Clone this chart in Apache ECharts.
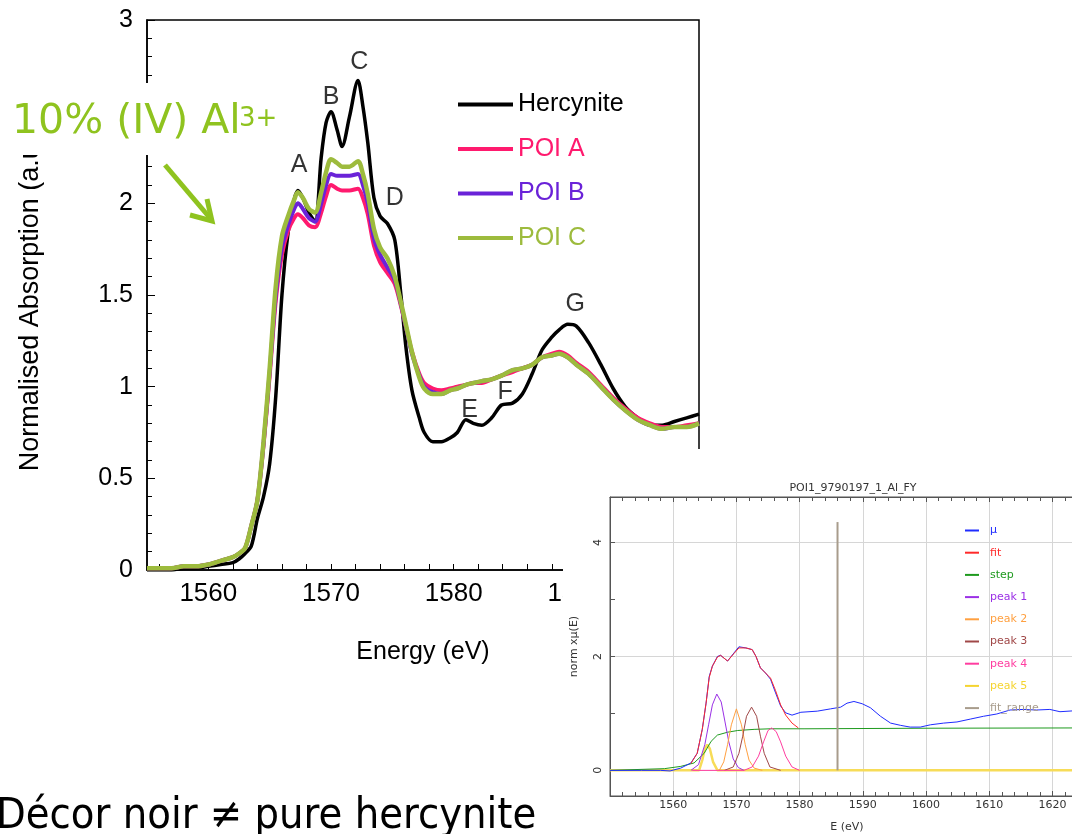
<!DOCTYPE html>
<html>
<head>
<meta charset="utf-8">
<script src="https://cdn.jsdelivr.net/npm/echarts@6/dist/echarts.min.js"></script>
<style>
  html, body { margin: 0; padding: 0; background: #fff; }
  #main { position: absolute; left: 0; top: 0; width: 1072px; height: 834px; }
  #fit  { position: absolute; left: 563px; top: 449px; width: 509px; height: 385px; background: #fff; }
</style>
</head>
<body>
<div id="main"></div>
<div id="fit"></div>
<script>
// ---------- Al K-edge XANES spectra (normalised) ----------
const energy = [1555,1556,1557,1558,1559,1560,1561,1562,
  1562.5,1563,1563.5,1564,1564.5,1565,1565.5,1566,1566.5,1567,
  1567.3,1567.7,1568.2,1568.7,1569.2,1569.6,1570,1570.5,1570.9,1571.5,
  1572.2,1572.6,1573,1573.5,1574,1574.6,1575.2,1575.7,1576.1,1576.6,
  1577.2,1577.6,1578.3,1579,1579.7,1580.3,1581,1581.6,1582.3,1583.1,
  1583.9,1584.8,1585.6,1586.4,1587.2,1588,1588.6,1589.3,1590,1591,
  1592,1593,1594,1595,1596,1597,1598,1599,1600];

const hercynite = [0.00,0.00,0.00,0.01,0.01,0.02,0.03,0.04,
  0.06,0.09,0.13,0.28,0.40,0.58,0.95,1.50,1.84,2.02,
  2.07,2.03,1.95,1.90,2.25,2.44,2.50,2.40,2.31,2.47,
  2.67,2.53,2.33,2.03,1.93,1.89,1.80,1.50,1.22,0.98,
  0.83,0.75,0.70,0.70,0.72,0.75,0.82,0.80,0.79,0.83,
  0.90,0.91,0.96,1.07,1.20,1.27,1.31,1.34,1.33,1.24,
  1.12,0.99,0.89,0.83,0.79,0.79,0.81,0.83,0.85];

const poiA = [0.01,0.01,0.01,0.02,0.02,0.03,0.05,0.07,
  0.09,0.12,0.24,0.38,0.68,1.06,1.47,1.72,1.85,1.92,
  1.94,1.92,1.88,1.87,1.95,2.04,2.10,2.08,2.07,2.07,
  2.08,2.03,1.94,1.77,1.68,1.62,1.56,1.44,1.33,1.19,
  1.07,1.02,0.99,0.98,0.99,1.00,1.01,1.02,1.02,1.04,
  1.06,1.08,1.10,1.12,1.16,1.18,1.19,1.17,1.13,1.08,
  1.01,0.94,0.88,0.83,0.80,0.78,0.78,0.79,0.80];

const poiB = [0.01,0.01,0.01,0.02,0.02,0.03,0.05,0.07,
  0.09,0.12,0.24,0.38,0.69,1.08,1.50,1.76,1.88,1.97,
  2.00,1.97,1.92,1.90,2.00,2.10,2.16,2.15,2.15,2.15,
  2.16,2.10,2.00,1.81,1.72,1.65,1.58,1.45,1.33,1.18,
  1.06,1.00,0.97,0.96,0.98,0.99,1.01,1.02,1.03,1.04,
  1.06,1.09,1.10,1.12,1.16,1.17,1.18,1.16,1.12,1.07,
  1.00,0.93,0.87,0.82,0.79,0.77,0.78,0.78,0.80];

const poiC = [0.01,0.01,0.01,0.02,0.02,0.03,0.05,0.07,
  0.09,0.12,0.24,0.38,0.70,1.10,1.55,1.82,1.93,2.02,
  2.06,2.03,1.97,1.95,2.06,2.17,2.24,2.22,2.20,2.20,
  2.23,2.16,2.05,1.86,1.76,1.70,1.60,1.46,1.34,1.19,
  1.05,0.99,0.96,0.96,0.98,0.99,1.01,1.02,1.03,1.04,
  1.06,1.09,1.10,1.12,1.16,1.17,1.18,1.16,1.12,1.07,
  1.00,0.93,0.87,0.82,0.79,0.77,0.78,0.78,0.80];

const seriesNames = ['Hercynite', 'POI A', 'POI B', 'POI C'];
const seriesColors = ['#000000', '#ff1a6e', '#6a22d8', '#9dbb3d'];

// spectral features labelled on the plot
const featureLetters = ['A', 'B', 'C', 'D', 'E', 'F', 'G'];
const featureEnergy  = [1567.4, 1570.0, 1572.3, 1575.2, 1581.3, 1584.2, 1589.9];
const featureLevel   = [2.21, 2.58, 2.77, 2.03, 0.87, 0.97, 1.45];

const energyTicks  = [1556,1558,1560,1562,1564,1566,1568,1570,1572,1574,1576,1578,
                      1580,1582,1584,1586,1588,1590,1592,1594,1596,1598];
const energyLabels = [1560, 1570, 1580, 1590];

// ---------- peak fit of POI 1 ----------
const muE = [1550,1555,1558,1559.5,1561.2,1562.8,1563.8,1564.6,1565.2,1565.7,
  1566.2,1567.0,1567.5,1568.6,1569.6,1570.4,1571.5,1572.5,1573.1,1573.8,
  1574.6,1575.4,1576.2,1577.0,1577.8,1578.8,1580.2,1582.8,1584.9,1586.5,
  1587.5,1588.6,1589.9,1591.2,1592.8,1594.4,1596.0,1597.5,1599.1,1600.7,
  1602.8,1604.9,1607.0,1609.1,1611.2,1613.3,1615.4,1617.5,1619.6,1621.2,1624];
const mu = [0,0,0,-0.01,0.04,0.13,0.30,0.72,1.18,1.65,
  1.83,2.00,2.02,1.92,2.06,2.17,2.15,2.12,2.00,1.80,
  1.71,1.60,1.36,1.13,1.01,0.97,1.02,1.04,1.08,1.11,
  1.18,1.21,1.17,1.10,0.95,0.83,0.79,0.76,0.76,0.80,
  0.83,0.85,0.90,0.95,0.99,1.06,1.07,1.06,1.07,1.03,1.05];

const fitE = [1562.8,1563.8,1564.6,1565.2,1565.7,1566.2,1567.0,1567.5,1568.6,1569.6,
  1570.4,1571.5,1572.5,1573.1,1573.8,1574.6,1575.4,1576.2,1577.0,1577.8,1578.8,1579.8];
const fitV = [0.12,0.30,0.72,1.18,1.63,1.83,1.99,2.02,1.92,2.05,
  2.15,2.15,2.12,2.00,1.80,1.71,1.62,1.40,1.15,0.97,0.83,0.745];

const stepE = [1550,1558.6,1561.2,1563.3,1564.9,1566.0,1567.0,1568.6,1570.2,1572.8,1575.4,1580.7,1600,1624];
const stepV = [0,0.03,0.07,0.13,0.30,0.51,0.62,0.67,0.70,0.72,0.73,0.73,0.74,0.745];

const peak1E = [1562.8,1564.0,1565.0,1565.6,1566.2,1566.9,1567.6,1568.2,1568.8,1569.5,1570.3,1571.2];
const peak1V = [0,0.10,0.45,0.80,1.15,1.34,1.20,0.85,0.50,0.20,0.05,0];
const peak2E = [1567.3,1568.0,1568.6,1569.2,1570.0,1570.8,1571.4,1572.0,1572.8,1574.1];
const peak2V = [0,0.15,0.45,0.80,1.08,0.80,0.45,0.18,0.04,0];
const peak3E = [1568.1,1569.5,1570.4,1571.0,1571.6,1572.4,1573.2,1573.8,1574.4,1575.3,1577.0];
const peak3V = [0,0.06,0.30,0.60,0.95,1.11,0.95,0.60,0.30,0.06,0];
const peak4E = [1563.0,1571.2,1572.5,1573.5,1574.3,1575.0,1575.6,1576.3,1577.0,1577.8,1578.8,1580.0];
const peak4V = [0,0,0.06,0.25,0.50,0.70,0.745,0.68,0.50,0.25,0.06,0];
const peak5E = [1550,1564.1,1564.6,1565.0,1565.4,1565.8,1566.3,1567.0,1624];
const peak5V = [0,0,0.18,0.38,0.45,0.38,0.15,0,0];
const fitRangeE = [1586, 1586];
const fitRangeV = [0, 4.36];

const fitNames  = ['μ', 'fit', 'step', 'peak 1', 'peak 2', 'peak 3', 'peak 4', 'peak 5', 'fit_range'];
const fitColors = ['#1f2cff', '#ff2a2a', '#1e9a1e', '#9b30e6', '#ffa040', '#a04848', '#ff3da0', '#f5d430', '#a89c8c'];

const pairs = (xs, ys) => xs.map((x, i) => [x, ys[i]]);
const plain = (v) => String(v);

// ================= main spectra =================
const SANS = '"Liberation Sans", Arial, sans-serif';
const main = echarts.init(document.getElementById('main'), null, { renderer: 'canvas' });
const spectra = [hercynite, poiA, poiB, poiC];
const widths = [3.5, 4, 4, 4.5];

main.setOption({
  animation: false,
  backgroundColor: '#fff',
  grid: { left: 147, top: 20, right: 373, bottom: 264, outerBoundsMode: 'none',
          show: true, borderColor: '#000', borderWidth: 1.5, backgroundColor: 'transparent' },
  xAxis: {
    type: 'value', min: 1555, max: 1600,
    axisLine: { onZero: false, lineStyle: { color: '#000', width: 1.5 } },
    axisTick: { inside: true, length: 6, customValues: energyTicks, lineStyle: { color: '#000', width: 1 } },
    axisLabel: { customValues: energyLabels, formatter: plain, color: '#000', fontSize: 26, fontFamily: SANS, margin: 11 },
    splitLine: { show: false },
    name: 'Energy (eV)', nameLocation: 'middle', nameGap: 70,
    nameTextStyle: { color: '#000', fontSize: 25, fontFamily: SANS }
  },
  yAxis: {
    type: 'value', min: 0, max: 3, interval: 0.5,
    axisLine: { show: true, onZero: false, lineStyle: { color: '#000', width: 1.5 } },
    axisTick: { show: true, inside: true, length: 8, lineStyle: { color: '#000', width: 1 } },
    minorTick: { show: true, splitNumber: 5, length: 5, lineStyle: { color: '#000', width: 1 } },
    axisLabel: { color: '#000', fontSize: 25, fontFamily: SANS, margin: 14 },
    splitLine: { show: false },
    name: 'Normalised Absorption (a.u.)', nameLocation: 'middle', nameGap: 103,
    nameTextStyle: { color: '#000', fontSize: 27, fontFamily: SANS, padding: [0, 9, 0, 0] }
  },
  legend: {
    orient: 'vertical', left: 458, top: 92, padding: 0,
    itemWidth: 55, itemHeight: 4, itemGap: 19.5,
    icon: 'rect',
    textStyle: { fontSize: 25, fontFamily: SANS },
    data: seriesNames.map((n, i) => ({ name: n, textStyle: { color: seriesColors[i] } }))
  },
  series: spectra.map((d, i) => ({
    name: seriesNames[i], type: 'line', data: pairs(energy, d),
    symbol: 'none', smooth: 0.3,
    lineStyle: { color: seriesColors[i], width: widths[i] },
    itemStyle: { color: seriesColors[i] },
    z: 2 + i
  })).concat([{
    name: 'features', type: 'scatter', symbolSize: 0, silent: true, z: 10,
    data: featureLetters.map((l, i) => ({ name: l, value: [featureEnergy[i], featureLevel[i]] })),
    label: { show: true, position: 'inside', formatter: p => p.name, color: '#000', fontSize: 25, fontFamily: SANS }
  }]),
  graphic: [
    { type: 'rect', z: 100, shape: { x: 0, y: 83, width: 287, height: 72 }, style: { fill: '#fff' } },
    { type: 'text', z: 101, x: 12, y: 122,
      style: { text: '10% (IV) Al', font: '41px "DejaVu Sans", Verdana, sans-serif', fill: '#8fc31f', verticalAlign: 'middle' } },
    { type: 'text', z: 101, x: 239, y: 119,
      style: { text: '3+', font: '26px "DejaVu Sans", Verdana, sans-serif', fill: '#8fc31f', verticalAlign: 'middle' } },
    { type: 'polyline', z: 101, shape: { points: [[165, 165], [210, 218]] },
      style: { stroke: '#8fc31f', lineWidth: 5, fill: null } },
    { type: 'polyline', z: 101, shape: { points: [[207, 199], [212, 221], [190, 215]] },
      style: { stroke: '#8fc31f', lineWidth: 5, fill: null, lineJoin: 'miter' } },
    { type: 'text', z: 101, x: -4, y: 817,
      style: { text: 'Décor noir ≠ pure hercynite', font: '43px "DejaVu Sans Condensed", "DejaVu Sans", sans-serif', fill: '#000', verticalAlign: 'middle' } }
  ]
});

// ================= peak-fit panel =================
const FIT_FONT = '"DejaVu Sans", Verdana, sans-serif';
const fit = echarts.init(document.getElementById('fit'), null, { renderer: 'canvas' });
const fitSeriesData = {
  'μ': pairs(muE, mu), 'fit': pairs(fitE, fitV), 'step': pairs(stepE, stepV),
  'peak 1': pairs(peak1E, peak1V), 'peak 2': pairs(peak2E, peak2V), 'peak 3': pairs(peak3E, peak3V),
  'peak 4': pairs(peak4E, peak4V), 'peak 5': pairs(peak5E, peak5V), 'fit_range': pairs(fitRangeE, fitRangeV)
};
// drawing order, back to front
const drawOrder = ['peak 5', 'step', 'μ', 'fit', 'peak 1', 'peak 2', 'peak 3', 'peak 4', 'fit_range'];
const lineW = { 'peak 5': 2.5, 'fit_range': 2 };

const fitXAxis = (pos, labels) => ({
  type: 'value', min: 1550, max: 1625, interval: 10, position: pos,
  axisLine: { onZero: false, lineStyle: { color: '#555', width: 1 } },
  axisTick: { inside: true, length: 5, lineStyle: { color: '#555' } },
  minorTick: { show: true, splitNumber: 5, length: 4, lineStyle: { color: '#555' } },
  axisLabel: labels
    ? { formatter: plain, color: '#333', fontSize: 11, fontFamily: FIT_FONT, margin: 4, showMinLabel: false, showMaxLabel: false }
    : { show: false },
  splitLine: { show: labels, lineStyle: { color: '#d6d6d6', width: 1 } }
});

fit.setOption({
  animation: false,
  backgroundColor: '#fff',
  title: {
    text: 'POI1_9790197_1_Al_FY', left: 285, top: 29, textAlign: 'center',
    textStyle: { fontSize: 11, fontWeight: 'normal', color: '#333', fontFamily: FIT_FONT }
  },
  grid: { left: 47, top: 48, right: -12, bottom: 38, outerBoundsMode: 'none',
          show: true, borderColor: '#555', borderWidth: 1 },
  xAxis: [
    Object.assign(fitXAxis('bottom', true), {
      name: 'E (eV)', nameLocation: 'middle', nameGap: 26,
      nameTextStyle: { color: '#333', fontSize: 11, fontFamily: FIT_FONT }
    }),
    fitXAxis('top', false)
  ],
  yAxis: [{
    type: 'value', min: -0.45, max: 4.8,
    axisLine: { show: true, onZero: false, lineStyle: { color: '#555', width: 1 } },
    axisTick: { show: true, inside: true, length: 5, customValues: [0, 1, 2, 3, 4], lineStyle: { color: '#555' } },
    axisLabel: { customValues: [0, 2, 4], rotate: 90, color: '#333', fontSize: 11, fontFamily: FIT_FONT, margin: 6 },
    splitLine: { show: false },
    name: 'norm xμ(E)', nameLocation: 'middle', nameGap: 30,
    nameTextStyle: { color: '#333', fontSize: 11, fontFamily: FIT_FONT }
  }, {
    // horizontal grid lines at the labelled values
    type: 'value', min: -0.45, max: 4.8, position: 'left',
    axisLine: { show: false },
    axisTick: { show: false, customValues: [0, 2, 4] },
    axisLabel: { show: false, customValues: [0, 2, 4] },
    splitLine: { show: true, lineStyle: { color: '#d6d6d6', width: 1 } }
  }],
  legend: {
    orient: 'vertical', left: 402, top: 76, padding: 0,
    itemWidth: 14, itemHeight: 2, itemGap: 11.2,
    icon: 'rect',
    textStyle: { fontSize: 11, fontFamily: FIT_FONT, padding: [0, 0, 0, 6] },
    data: fitNames.map((n, i) => ({ name: n, textStyle: { color: fitColors[i] } }))
  },
  series: drawOrder.map((n) => {
    const c = n === 'peak 5' ? '#f7dc58' : fitColors[fitNames.indexOf(n)];
    return {
      name: n, type: 'line', data: fitSeriesData[n], symbol: 'none',
      xAxisIndex: 0, yAxisIndex: 0,
      lineStyle: { color: c, width: lineW[n] || 1 }, itemStyle: { color: fitColors[fitNames.indexOf(n)] }
    };
  })
});
</script>
</body>
</html>
